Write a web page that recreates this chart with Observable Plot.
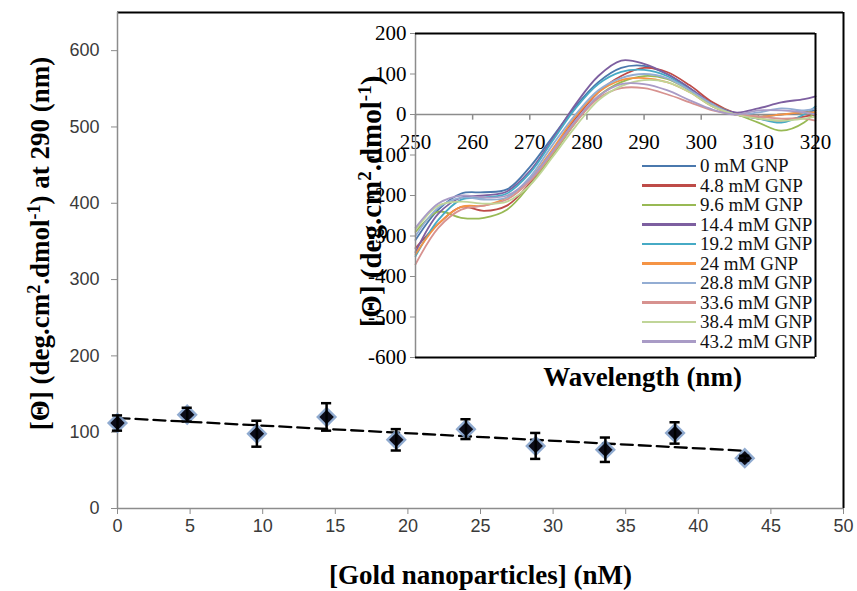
<!DOCTYPE html>
<html><head><meta charset="utf-8">
<script src="https://cdn.jsdelivr.net/npm/d3@7"></script>
<script src="https://cdn.jsdelivr.net/npm/@observablehq/plot@0.6"></script>
<style>
body{margin:0;background:#fff;}
#wrap{position:relative;width:857px;height:591px;overflow:hidden;background:#fff;}
#main{position:absolute;left:0;top:0;}
#inset{position:absolute;left:355px;top:20px;}
#legend{position:absolute;left:642px;top:156px;font-family:"Liberation Serif",serif;font-size:19px;color:#111;}
#legend .row{height:19.5px;line-height:19.5px;white-space:nowrap;display:flex;align-items:center;}
#legend .sw{display:inline-block;width:54px;height:2.5px;margin-right:4px;}
</style></head><body>
<div id="wrap"><div id="main"></div><div id="inset"></div><div id="legend"></div></div>
<script>
// ---- main chart data ----
const concentrations = [0, 4.8, 9.6, 14.4, 19.2, 24, 28.8, 33.6, 38.4, 43.2];
const ellipticity290 = [112, 123, 98, 120, 90, 104, 82, 77, 99, 66];
const errorBars = [10, 9, 17, 18, 14, 13, 17, 16, 14, 3];
const mainXTicks = [0, 5, 10, 15, 20, 25, 30, 35, 40, 45, 50];
const mainYTicks = [0, 100, 200, 300, 400, 500, 600];

// ---- inset chart data ----
const wavelengths = [250, 254, 258, 262, 266, 270, 274, 278, 282, 286, 290, 294, 298, 302, 306, 310, 314, 318, 320];
const seriesNames = ["0 mM GNP", "4.8 mM GNP", "9.6 mM GNP", "14.4 mM GNP", "19.2 mM GNP", "24 mM GNP", "28.8 mM GNP", "33.6 mM GNP", "38.4 mM GNP", "43.2 mM GNP"];
const seriesColors = ["#4a78ad", "#be4b48", "#98b954", "#7d5fa0", "#46aac5", "#f59445", "#93add3", "#d7928f", "#c0d598", "#a99bc6"];
const gnp0    = [-310, -235, -195, -192, -185, -130, -55, 20, 80, 115, 120, 100, 65, 25, 0, -5, 0, 5, 10];
const gnp4_8  = [-330, -270, -228, -238, -225, -170, -90, -10, 55, 95, 115, 105, 72, 30, 3, -10, -15, -5, 0];
const gnp9_6  = [-290, -240, -255, -255, -235, -175, -100, -20, 45, 80, 95, 88, 60, 25, 2, -20, -40, -20, 10];
const gnp14_4 = [-340, -245, -205, -200, -190, -140, -60, 25, 95, 133, 125, 100, 65, 25, 5, 15, 30, 38, 45];
const gnp19_2 = [-350, -260, -210, -205, -195, -145, -65, 15, 75, 105, 110, 95, 60, 20, 0, -10, -20, 0, 20];
const gnp24   = [-345, -270, -228, -225, -205, -160, -85, -5, 55, 85, 90, 80, 55, 20, 0, -5, 0, 5, 5];
const gnp28_8 = [-300, -230, -205, -210, -205, -155, -75, 0, 60, 90, 100, 90, 60, 25, 0, 5, 15, 10, 15];
const gnp33_6 = [-370, -280, -235, -225, -210, -165, -95, -20, 40, 65, 65, 50, 30, 10, 0, -5, -10, -10, -15];
const gnp38_4 = [-285, -225, -215, -220, -215, -175, -105, -30, 35, 70, 85, 80, 55, 20, 0, -10, -15, -10, -5];
const gnp43_2 = [-280, -220, -200, -205, -200, -160, -90, -15, 45, 75, 75, 60, 35, 12, 0, 10, 10, 5, 0];
const insetXTicks = [250, 260, 270, 280, 290, 300, 310, 320];
const insetYTicks = [-600, -500, -400, -300, -200, -100, 0, 100, 200];

const seriesValues = [gnp0, gnp4_8, gnp9_6, gnp14_4, gnp19_2, gnp24, gnp28_8, gnp33_6, gnp38_4, gnp43_2];

const pts = concentrations.map((x, i) => ({x, y: ellipticity290[i], e: errorBars[i]}));
const curves = seriesNames.flatMap((name, k) => wavelengths.map((w, i) => ({w, v: seriesValues[k][i], name})));

const serif = "'Liberation Serif', 'Times New Roman', serif";
const labelSize = 27;
const mainLabelY = "[\u0398] (deg.cm2.dmol-1) at 290 (nm)";
const mainLabelYHtml = "[\u0398] (deg.cm<tspan dy='-9' font-size='18'>2</tspan><tspan dy='9'>.dmol</tspan><tspan dy='-9' font-size='18'>-1</tspan><tspan dy='9'>) at 290 (nm)</tspan>";
const mainLabelX = "[Gold nanoparticles] (nM)";

function superscript(svg, plain, html) {
  svg.querySelectorAll("text").forEach(t => { if (t.textContent === plain) t.innerHTML = html; });
}

const main = Plot.plot({
  width: 857, height: 591,
  marginLeft: 117, marginRight: 14, marginTop: 12, marginBottom: 83,
  style: {fontFamily: "'Liberation Sans', Arial, sans-serif", fontSize: "18px", color: "#3a3a3a", background: "transparent", overflow: "visible"},
  x: {domain: [0, 50], axis: null},
  y: {domain: [0, 650], axis: null},
  marks: [
    Plot.ruleY([650], {stroke: "black", strokeWidth: 2}),
    Plot.ruleX([50], {stroke: "black", strokeWidth: 2}),
    Plot.axisY({ticks: mainYTicks, tickSize: 6, tickPadding: 12, stroke: "#8c8c8c", fill: "#3a3a3a", label: null}),
    Plot.axisX({ticks: mainXTicks, tickSize: 6, tickPadding: 5, stroke: "#8c8c8c", fill: "#3a3a3a", label: null}),
    Plot.ruleX([0], {stroke: "#8c8c8c", strokeWidth: 1.5}),
    Plot.ruleY([0], {stroke: "#8c8c8c", strokeWidth: 1.5}),
    Plot.linearRegressionY(pts, {x: "x", y: "y", ci: 0, stroke: "black", strokeWidth: 2.3, strokeDasharray: "12,6"}),
    Plot.dot(pts, {x: "x", y: "y", symbol: "diamond2", r: 9.5, fill: "#7d9cc8", fillOpacity: 0.85}),
    Plot.dot(pts, {x: "x", y: "y", symbol: "diamond2", r: 6.5, fill: "#0c0c18"}),
    Plot.ruleX(pts, {x: "x", y1: d => d.y - d.e, y2: d => d.y + d.e, stroke: "black", strokeWidth: 2.5}),
    Plot.ruleY(pts, {y: d => d.y + d.e, x1: d => d.x - 0.35, x2: d => d.x + 0.35, stroke: "black", strokeWidth: 2.5}),
    Plot.ruleY(pts, {y: d => d.y - d.e, x1: d => d.x - 0.35, x2: d => d.x + 0.35, stroke: "black", strokeWidth: 2.5}),
    Plot.text([mainLabelY], {frameAnchor: "left", textAnchor: "middle", lineAnchor: "middle", rotate: -90, dx: -77, dy: -17, fontFamily: serif, fontWeight: "bold", fontSize: labelSize, fill: "black"}),
    Plot.text([mainLabelX], {frameAnchor: "bottom", lineAnchor: "middle", dy: 67, fontFamily: serif, fontWeight: "bold", fontSize: labelSize, fill: "black"})
  ]
});
superscript(main, mainLabelY, mainLabelYHtml);
document.getElementById("main").appendChild(main);

const insetLabelY = "[\u0398] (deg.cm2.dmol-1)";
const insetLabelYHtml = "[\u0398] (deg.cm<tspan dy='-10' font-size='19'>2</tspan><tspan dy='10'>.dmol</tspan><tspan dy='-10' font-size='19'>-1</tspan><tspan dy='10'>)</tspan>";
const inset = Plot.plot({
  width: 480, height: 380,
  marginLeft: 60, marginRight: 20, marginTop: 13, marginBottom: 43,
  style: {fontFamily: serif, fontSize: "21px", color: "black", background: "transparent", overflow: "visible"},
  x: {domain: [250, 320], axis: null},
  y: {domain: [-600, 200], axis: null},
  color: {domain: seriesNames, range: seriesColors},
  marks: [
    Plot.frame({fill: "white", stroke: "none"}),
    Plot.axisY({ticks: insetYTicks, tickSize: 5, tickPadding: 4, stroke: "#8c8c8c", fill: "black", label: null, tickFormat: d => String(d)}),
    Plot.ruleY([0], {stroke: "#8c8c8c", strokeWidth: 1.5}),
    Plot.ruleX(insetXTicks, {x: d => d, y1: 0, y2: -14, stroke: "#8c8c8c", strokeWidth: 1.5}),
    Plot.text(insetXTicks, {x: d => d, y: 0, dy: 28, text: d => String(d), fill: "black"}),
    Plot.line(curves, {x: "w", y: "v", z: "name", stroke: "name", curve: "catmull-rom", strokeWidth: 1.8}),
    Plot.ruleX([250], {stroke: "#8c8c8c", strokeWidth: 1.5}),
    Plot.ruleY([200, -600], {stroke: "black", strokeWidth: 2}),
    Plot.ruleX([320], {stroke: "black", strokeWidth: 2}),
    Plot.text([insetLabelY], {frameAnchor: "left", textAnchor: "middle", lineAnchor: "middle", rotate: -90, dx: -44, dy: 6, fontWeight: "bold", fontSize: 29, fill: "black"}),
    Plot.text(["Wavelength (nm)"], {frameAnchor: "bottom", lineAnchor: "middle", dx: 27, dy: 20, fontWeight: "bold", fontSize: labelSize, fill: "black"})
  ]
});
superscript(inset, insetLabelY, insetLabelYHtml);
document.getElementById("inset").appendChild(inset);

const legend = document.getElementById("legend");
seriesNames.forEach((name, k) => {
  const row = document.createElement("div");
  row.className = "row";
  const sw = document.createElement("span");
  sw.className = "sw";
  sw.style.background = seriesColors[k];
  const t = document.createElement("span");
  t.textContent = name;
  row.appendChild(sw);
  row.appendChild(t);
  legend.appendChild(row);
});
</script>
</body></html>
